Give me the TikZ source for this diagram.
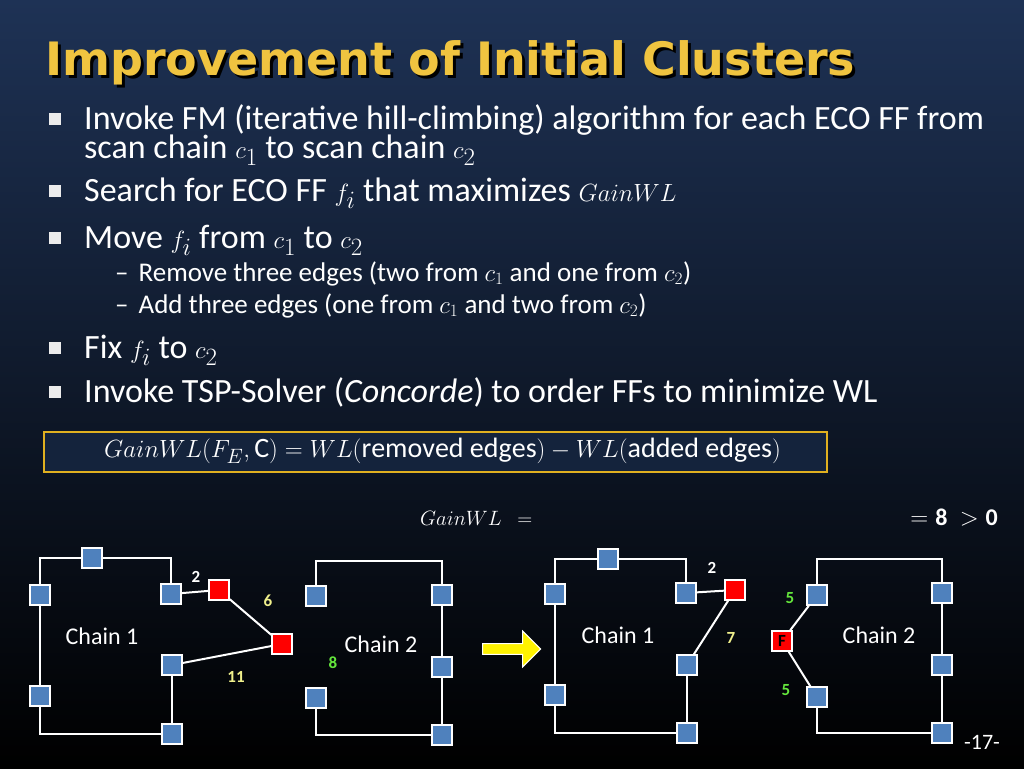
\documentclass[tikz,border=0pt]{standalone}
\usepackage{amsmath}
\usepackage{fontspec}
\setmainfont{Carlito}
\newfontfamily\titlefont{DejaVu Sans}
\usetikzlibrary{shapes.arrows}
\definecolor{ffblue}{RGB}{79,129,189}
\definecolor{titlegold}{RGB}{240,196,64}
\definecolor{boxgold}{RGB}{224,176,32}
\definecolor{lblyellow}{RGB}{240,240,140}
\definecolor{lblgreen}{RGB}{100,230,60}
\tikzset{
  ff/.style={draw=white,fill=ffblue,line width=1.5pt,minimum size=20pt,inner sep=0pt},
  eco/.style={draw=white,fill=red,line width=1.5pt,minimum size=20pt,inner sep=0pt},
  wire/.style={draw=white,line width=2pt},
  txt/.style={anchor=base west,inner sep=0pt,text=white,font=\fontsize{34}{38}\selectfont},
  subtxt/.style={anchor=base west,inner sep=0pt,text=white,font=\fontsize{27}{31}\selectfont},
  bul/.style={fill=white!85!gray,minimum size=12pt,inner sep=0pt},
  wl/.style={font=\bfseries\fontsize{17}{20}\selectfont},
  chaintxt/.style={text=white,font=\fontsize{24}{28}\selectfont}
}
\begin{document}
\begin{tikzpicture}[x=1pt,y=-1pt]
\useasboundingbox (0,0) rectangle (1024,768);
\shade[top color={rgb,255:red,30;green,50;blue,85},bottom color=black] (0,0) rectangle (1024,768);

% title
\node[anchor=base west,inner sep=0pt,text=black,font=\titlefont\bfseries\fontsize{46}{52}\selectfont] at (48,78) {Improvement of Initial Clusters};
\node[anchor=base west,inner sep=0pt,text=titlegold,font=\titlefont\bfseries\fontsize{46}{52}\selectfont] (title) at (45,75) {Improvement of Initial Clusters};

% bullets
\foreach \y in {119,191,238,348,392} \node[bul] at (55,\y) {};
\node[txt] (b1) at (84,129) {Invoke FM (iterative hill-climbing) algorithm for each ECO FF from};
\node[txt] (b1b) at (84,158) {scan chain $c_1$ to scan chain $c_2$};
\node[txt] (b2) at (84,201) {Search for ECO FF $f_i$ that maximizes $GainWL$};
\node[txt] (b3) at (84,248) {Move $f_i$ from $c_1$ to $c_2$};
\node[subtxt] (s1) at (115,281) {--\hspace{10pt}Remove three edges (two from $c_1$ and one from $c_2$)};
\node[subtxt] (s2) at (115,313) {--\hspace{10pt}Add three edges (one from $c_1$ and two from $c_2$)};
\node[txt] (b4) at (84,358) {Fix $f_i$ to $c_2$};
\node[txt] (b5) at (84,402) {Invoke TSP-Solver (\textit{Concorde}) to order FFs to minimize WL};

% formula
\draw[boxgold,line width=2pt,fill={rgb,255:red,20;green,35;blue,60}] (44,432) rectangle (827,472);
\node[anchor=west,text=white,font=\fontsize{28}{32}\selectfont,inner sep=0pt] (gain) at (104,451) {$GainWL(F_E,\mathrm{C})=WL(\mathrm{removed\ edges})-WL(\mathrm{added\ edges})$};
\node[anchor=west,text=white,font=\fontsize{22}{26}\selectfont,inner sep=0pt] (gw) at (420,518) {$GainWL\ \ =$};
\node[anchor=east,text=white,font=\fontsize{24}{28}\selectfont,inner sep=0pt] (res) at (998,518) {$=\mathbf{8}\ >\mathbf{0}$};

% left: chain 1
\node[ff] (a1) at (92,558) {};
\node[ff] (a2) at (40,595) {};
\node[ff] (a3) at (171,594) {};
\node[ff] (a4) at (40,696) {};
\node[ff] (a5) at (172,665) {};
\node[ff] (a6) at (172,734) {};
\node[eco] (e1) at (219,590) {};
\node[eco] (e2) at (282,644) {};
\draw[wire] (a3) -- (171,558) -- (a1) -- (40,558) -- (a2) -- (a4) -- (40,734) -- (a6) -- (a5);
\draw[wire] (a3) -- (e1) -- (e2) -- (a5);
\node[chaintxt] (c1) at (102,636) {Chain 1};
\node[wl,text=white] (l1) at (196,577) {2};
\node[wl,text=lblyellow] (l2) at (268,601) {6};
\node[wl,text=lblyellow] (l3) at (236,677) {11};

% left: chain 2
\node[ff] (b1s) at (316,596) {};
\node[ff] (b2s) at (442,595) {};
\node[ff] (b3s) at (442,667) {};
\node[ff] (b4s) at (316,698) {};
\node[ff] (b5s) at (442,735) {};
\draw[wire] (b1s) -- (316,561) -- (442,561) -- (b2s) -- (b3s) -- (b5s) -- (316,735) -- (b4s);
\node[chaintxt] (c2) at (381,644) {Chain 2};
\node[wl,text=lblgreen] (l4) at (333,663) {8};

% arrow
\node[single arrow,fill=yellow,draw=white,line width=1pt,minimum width=36pt,single arrow head extend=6pt,minimum height=58pt,inner sep=2pt] (arr) at (509,649) {};

% right: chain 1
\node[ff] (r1) at (608,559) {};
\node[ff] (r2) at (555,594) {};
\node[ff] (r3) at (686,593) {};
\node[ff] (r4) at (555,695) {};
\node[ff] (r5) at (687,665) {};
\node[ff] (r6) at (687,733) {};
\node[eco] (re) at (735,590) {};
\draw[wire] (r3) -- (686,559) -- (r1) -- (555,559) -- (r2) -- (r4) -- (555,733) -- (r6) -- (r5);
\draw[wire] (r3) -- (re) -- (r5);
\node[chaintxt] (c3) at (618,635) {Chain 1};
\node[wl,text=white] (l5) at (712,568) {2};
\node[wl,text=lblyellow] (l6) at (731,638) {7};

% right: chain 2
\node[ff] (q1) at (817,595) {};
\node[ff] (q2) at (942,593) {};
\node[ff] (q3) at (942,665) {};
\node[ff] (q4) at (817,697) {};
\node[ff] (q5) at (942,733) {};
\node[eco,font=\bfseries\fontsize{17}{20}\selectfont] (qf) at (782,641) {F};
\draw[wire] (q1) -- (817,559) -- (942,559) -- (q2) -- (q3) -- (q5) -- (817,733) -- (q4);
\draw[wire] (q1) -- (qf) -- (q4);
\node[chaintxt] (c4) at (879,635) {Chain 2};
\node[wl,text=lblgreen] (l7) at (790,598) {5};
\node[wl,text=lblgreen] (l8) at (786,690) {5};

\node[text=white,font=\fontsize{22}{26}\selectfont] (pg) at (982,742) {-17-};
\end{tikzpicture}
\end{document}
